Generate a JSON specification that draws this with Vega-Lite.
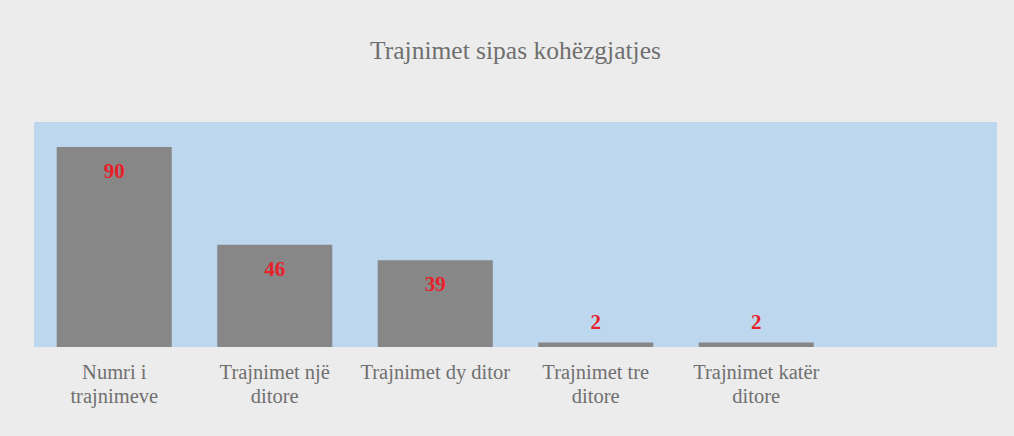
{
  "$schema": "https://vega.github.io/schema/vega-lite/v6.json",
  "width": 963,
  "height": 225,
  "autosize": {"type": "none"},
  "padding": {"left": 34, "top": 122, "right": 17, "bottom": 89},
  "background": "#ececec",
  "title": {
    "text": "Trajnimet sipas kohëzgjatjes",
    "font": "Liberation Serif",
    "fontSize": 25.5,
    "fontWeight": "normal",
    "color": "#6f6f6f",
    "anchor": "middle",
    "offset": 58
  },
  "config": {
    "view": {"fill": "#bdd7ee", "stroke": null}
  },
  "data": {
    "values": [
      {"kategoria": "Numri i|trajnimeve", "vlera": 90},
      {"kategoria": "Trajnimet një|ditore", "vlera": 46},
      {"kategoria": "Trajnimet dy ditor", "vlera": 39},
      {"kategoria": "Trajnimet tre|ditore", "vlera": 2},
      {"kategoria": "Trajnimet  katër|ditore", "vlera": 2}
    ]
  },
  "encoding": {
    "x": {
      "field": "kategoria",
      "type": "nominal",
      "sort": null,
      "scale": {
        "domain": ["Numri i|trajnimeve", "Trajnimet një|ditore", "Trajnimet dy ditor", "Trajnimet tre|ditore", "Trajnimet  katër|ditore", " "],
        "paddingInner": 0.283,
        "paddingOuter": 0.1415
      },
      "axis": {
        "title": null,
        "labelAngle": 0,
        "labelExpr": "split(datum.value, '|')",
        "labelFont": "Liberation Serif",
        "labelFontSize": 20.5,
        "labelColor": "#707070",
        "labelLineHeight": 24,
        "labelPadding": 15,
        "labelLimit": 300,
        "domain": false,
        "ticks": false,
        "grid": false
      }
    },
    "y": {
      "field": "vlera",
      "type": "quantitative",
      "scale": {"domain": [0, 101.25], "nice": false},
      "axis": null
    }
  },
  "layer": [
    {"mark": {"type": "bar", "color": "#878787"}},
    {
      "transform": [{"filter": "datum.vlera > 10"}],
      "mark": {"type": "text", "dy": 25, "baseline": "middle", "font": "Liberation Serif", "fontSize": 21, "fontWeight": "bold", "color": "#e8202a"},
      "encoding": {"text": {"field": "vlera", "type": "quantitative"}}
    },
    {
      "transform": [{"filter": "datum.vlera <= 10"}],
      "mark": {"type": "text", "dy": -20, "baseline": "middle", "font": "Liberation Serif", "fontSize": 21, "fontWeight": "bold", "color": "#e8202a"},
      "encoding": {"text": {"field": "vlera", "type": "quantitative"}}
    }
  ]
}
